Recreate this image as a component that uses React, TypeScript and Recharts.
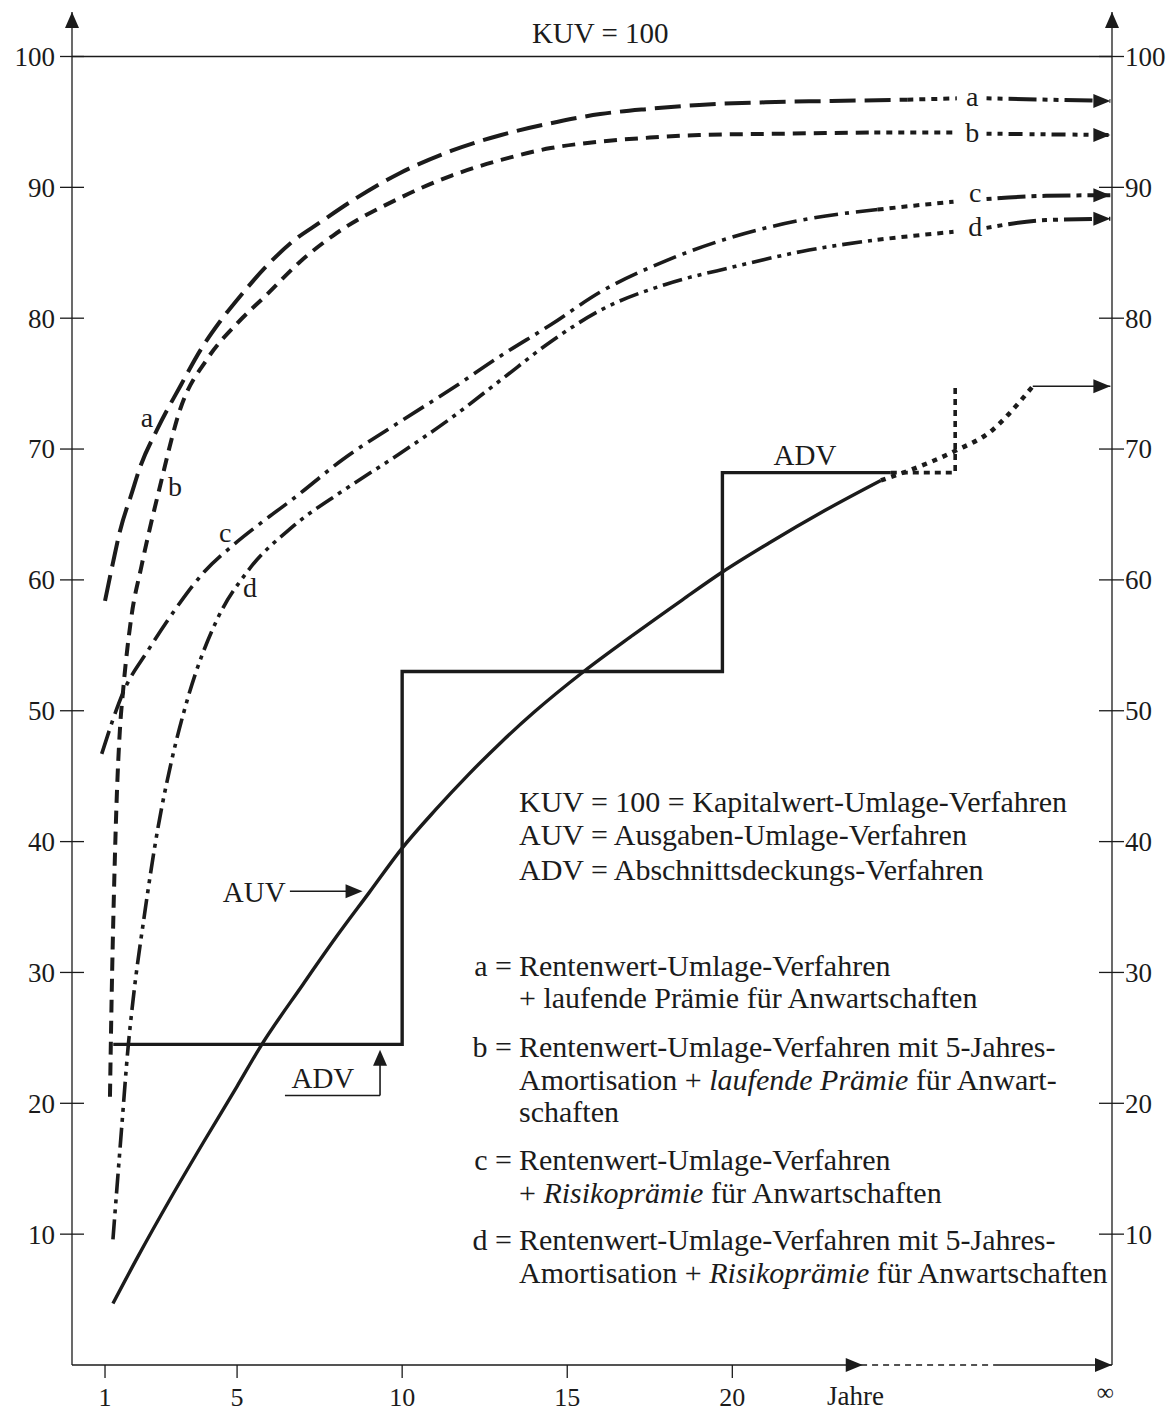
import React from "react";
import {
  LineChart,
  Line,
  XAxis,
  YAxis,
  ReferenceLine,
  ReferenceDot,
} from "recharts";

const W = 1168;
const H = 1414;
const SERIF = '"Liberation Serif", "Times New Roman", serif';
const INK = "#1b1b1b";

// axes
const yTicks = [10, 20, 30, 40, 50, 60, 70, 80, 90, 100];
const xTicks = [1, 5, 10, 15, 20];
const JAHRE_AT = 23.73;
const INF_AT = 31.3;
const X_MAX = 31.5;
const Y_MAX = 103.4;

// a = Rentenwert-Umlage + laufende Prämie
const curveA = [
  { x: 1.0, y: 58.4 }, { x: 1.24, y: 61.3 }, { x: 1.45, y: 63.7 }, { x: 1.82, y: 66.7 },
  { x: 2.06, y: 68.6 }, { x: 2.58, y: 71.5 }, { x: 3.3, y: 74.9 }, { x: 3.9, y: 77.6 },
  { x: 4.5, y: 79.8 }, { x: 5.1, y: 81.7 }, { x: 5.9, y: 84.0 }, { x: 6.7, y: 85.9 },
  { x: 7.5, y: 87.3 }, { x: 8.5, y: 89.0 }, { x: 9.94, y: 91.1 }, { x: 11.5, y: 92.8 },
  { x: 13, y: 94.0 }, { x: 14.5, y: 94.9 }, { x: 16, y: 95.6 }, { x: 17.5, y: 96.0 },
  { x: 19, y: 96.3 }, { x: 21, y: 96.5 }, { x: 23, y: 96.6 }, { x: 25.3, y: 96.7 },
];
const bridgeA = [{ x: 25.3, y: 96.7 }, { x: 26.8, y: 96.8 }];
const tailA = [{ x: 27.7, y: 96.8 }, { x: 31.45, y: 96.6 }];

// b = Rentenwert-Umlage mit 5-Jahres-Amortisation + laufende Prämie
const curveB = [
  { x: 1.15, y: 20.5 }, { x: 1.2, y: 28 }, { x: 1.27, y: 36 }, { x: 1.35, y: 43 },
  { x: 1.45, y: 48.5 }, { x: 1.55, y: 51.6 }, { x: 1.8, y: 57.2 }, { x: 2.1, y: 61 },
  { x: 2.67, y: 67.2 }, { x: 3.27, y: 73.0 }, { x: 4.1, y: 76.9 }, { x: 5, y: 79.6 },
  { x: 5.9, y: 81.8 }, { x: 6.9, y: 84.3 }, { x: 7.9, y: 86.3 }, { x: 9.94, y: 89.2 },
  { x: 11.5, y: 90.9 }, { x: 13, y: 92.1 }, { x: 14.5, y: 93.0 }, { x: 16, y: 93.5 },
  { x: 17.5, y: 93.8 }, { x: 19, y: 94.0 }, { x: 21.5, y: 94.1 }, { x: 24.3, y: 94.2 },
];
const bridgeB = [{ x: 24.3, y: 94.2 }, { x: 26.8, y: 94.2 }];
const tailB = [{ x: 27.7, y: 94.1 }, { x: 31.45, y: 94.0 }];

// c = Rentenwert-Umlage + Risikoprämie
const curveC = [
  { x: 0.9, y: 46.7 }, { x: 1.55, y: 51.4 }, { x: 2.3, y: 54.6 }, { x: 3.2, y: 58 },
  { x: 4.0, y: 60.6 }, { x: 4.9, y: 62.7 }, { x: 5.8, y: 64.5 }, { x: 6.7, y: 66.2 },
  { x: 8.2, y: 69.2 }, { x: 9.94, y: 72.1 }, { x: 11.5, y: 74.6 }, { x: 12.97, y: 77.1 },
  { x: 14.5, y: 79.5 }, { x: 16, y: 82.0 }, { x: 18, y: 84.4 }, { x: 20, y: 86.2 },
  { x: 22.1, y: 87.5 }, { x: 24.4, y: 88.3 },
];
const bridgeC = [{ x: 24.4, y: 88.3 }, { x: 25.5, y: 88.6 }, { x: 26.7, y: 88.9 }];
const tailC = [{ x: 27.7, y: 89.1 }, { x: 29.5, y: 89.35 }, { x: 31.45, y: 89.4 }];

// d = Rentenwert-Umlage mit 5-Jahres-Amortisation + Risikoprämie
const curveD = [
  { x: 1.24, y: 9.6 }, { x: 1.5, y: 18 }, { x: 1.7, y: 24.3 }, { x: 1.85, y: 27.9 },
  { x: 2.2, y: 34.5 }, { x: 2.6, y: 41 }, { x: 3.0, y: 46 }, { x: 3.5, y: 50.9 },
  { x: 4.4, y: 57 }, { x: 5.3, y: 60.6 }, { x: 6.7, y: 64.1 }, { x: 8.2, y: 66.8 },
  { x: 9.9, y: 69.6 }, { x: 11.5, y: 72.4 }, { x: 13, y: 75.3 }, { x: 14.5, y: 78.2 },
  { x: 16, y: 80.6 }, { x: 18, y: 82.6 }, { x: 20, y: 83.9 }, { x: 22.1, y: 85.1 },
  { x: 24.4, y: 86.0 },
];
const bridgeD = [{ x: 24.4, y: 86.0 }, { x: 25.5, y: 86.3 }, { x: 26.7, y: 86.6 }];
const tailD = [{ x: 27.7, y: 86.9 }, { x: 29.5, y: 87.5 }, { x: 31.45, y: 87.6 }];

// AUV = Ausgaben-Umlage-Verfahren
const auv = [
  { x: 1.24, y: 4.7 }, { x: 2, y: 8.3 }, { x: 3, y: 12.8 }, { x: 4, y: 17.1 },
  { x: 5, y: 21.3 }, { x: 5.7, y: 24.3 }, { x: 7, y: 29.1 }, { x: 8, y: 32.7 },
  { x: 9, y: 36.1 }, { x: 10, y: 39.5 }, { x: 11, y: 42.4 }, { x: 12, y: 45.1 },
  { x: 13, y: 47.6 }, { x: 14, y: 49.9 }, { x: 15.5, y: 53.0 }, { x: 17, y: 55.8 },
  { x: 18.5, y: 58.5 }, { x: 19.7, y: 60.6 }, { x: 21.1, y: 62.8 }, { x: 22.8, y: 65.3 },
  { x: 24.5, y: 67.6 },
];
const auvLimit = [
  { x: 24.5, y: 67.6 }, { x: 25.6, y: 68.6 }, { x: 26.7, y: 69.8 }, { x: 27.9, y: 71.5 },
  { x: 28.7, y: 73.6 }, { x: 29.1, y: 74.8 },
];
const auvLimitArrow = [{ x: 29.1, y: 74.8 }, { x: 31.45, y: 74.8 }];

// ADV = Abschnittsdeckungs-Verfahren (10-Jahres-Abschnitte)
const adv = [
  { x: 1.25, y: 24.5 }, { x: 10, y: 24.5 }, { x: 10, y: 53.0 }, { x: 19.7, y: 53.0 },
  { x: 19.7, y: 68.2 }, { x: 24.8, y: 68.2 },
];
const advLimit = [{ x: 24.8, y: 68.2 }, { x: 26.75, y: 68.2 }, { x: 26.75, y: 74.8 }];

const legendTop = [
  { y: 812, text: "KUV = 100 = Kapitalwert-Umlage-Verfahren" },
  { y: 845, text: "AUV = Ausgaben-Umlage-Verfahren" },
  { y: 880, text: "ADV = Abschnittsdeckungs-Verfahren" },
];

const arrowRight = (p: any) => (
  <path
    d={`M${p.cx},${p.cy} L${p.cx - 17},${p.cy - 7} L${p.cx - 17},${p.cy + 7} Z`}
    fill={INK}
  />
);
const arrowUp = (p: any) => (
  <path
    d={`M${p.cx},${p.cy} L${p.cx - 7},${p.cy + 16} L${p.cx + 7},${p.cy + 16} Z`}
    fill={INK}
  />
);
const note = (text: string, size = 28, anchor = "middle") => (p: any) => (
  <text
    x={p.cx}
    y={p.cy}
    textAnchor={anchor}
    fontFamily={SERIF}
    fontSize={size}
    fill={INK}
  >
    {text}
  </text>
);

const LeftTick = (p: any) => (
  <g>
    <line x1={p.x - 12} x2={p.x + 12} y1={p.y} y2={p.y} stroke={INK} strokeWidth={1.3} />
    <text x={p.x - 17} y={p.y} dy="0.35em" textAnchor="end" fontFamily={SERIF} fontSize={27} fill={INK}>
      {p.payload.value}
    </text>
  </g>
);
const RightTick = (p: any) => (
  <g>
    <line x1={p.x - 13} x2={p.x + 12} y1={p.y} y2={p.y} stroke={INK} strokeWidth={1.3} />
    <text x={p.x + 13} y={p.y} dy="0.35em" textAnchor="start" fontFamily={SERIF} fontSize={27} fill={INK}>
      {p.payload.value}
    </text>
  </g>
);
const BottomTick = (p: any) => {
  const v = p.payload.value;
  if (v === JAHRE_AT)
    return (
      <text x={p.x} y={p.y + 40} textAnchor="middle" fontFamily={SERIF} fontSize={27} fill={INK}>
        Jahre
      </text>
    );
  if (v === INF_AT)
    return (
      <text x={p.x} y={p.y + 35} textAnchor="middle" fontFamily={SERIF} fontSize={24} fill={INK}>
        ∞
      </text>
    );
  return (
    <g>
      <line x1={p.x} x2={p.x} y1={p.y} y2={p.y + 13} stroke={INK} strokeWidth={1.3} />
      <text x={p.x} y={p.y + 41} textAnchor="middle" fontFamily={SERIF} fontSize={26} fill={INK}>
        {v}
      </text>
    </g>
  );
};

const common = {
  yAxisId: "left",
  dataKey: "y",
  stroke: INK,
  dot: false,
  activeDot: false,
  isAnimationActive: false,
} as const;

export default function App() {
  return (
    <div style={{ position: "absolute", left: 0, top: 0, width: W, height: H, background: "#fff" }}>
      <LineChart
        width={W}
        height={H}
        margin={{ top: 12, right: 16, bottom: 19, left: 32 }}
      >
        <XAxis
          type="number"
          dataKey="x"
          domain={[0, X_MAX]}
          ticks={[...xTicks, JAHRE_AT, INF_AT]}
          interval={0}
          axisLine={false}
          tickLine={false}
          tickSize={0}
          tickMargin={0}
          height={30}
          tick={<BottomTick />}
          allowDataOverflow
        />
        <YAxis
          yAxisId="left"
          type="number"
          domain={[0, Y_MAX]}
          ticks={yTicks}
          interval={0}
          width={40}
          axisLine={{ stroke: INK, strokeWidth: 1.3 }}
          tickLine={false}
          tickSize={0}
          tickMargin={0}
          tick={<LeftTick />}
          allowDataOverflow
        />
        <YAxis
          yAxisId="right"
          orientation="right"
          type="number"
          domain={[0, Y_MAX]}
          ticks={yTicks.slice()}
          interval={0}
          width={40}
          axisLine={{ stroke: INK, strokeWidth: 1.3 }}
          tickLine={false}
          tickSize={0}
          tickMargin={0}
          tick={<RightTick />}
          allowDataOverflow
        />

        <ReferenceLine yAxisId="left" y={100} stroke={INK} strokeWidth={1.3} />
        <ReferenceLine yAxisId="left" segment={[{ x: 0, y: 0 }, { x: 23.9, y: 0 }]} stroke={INK} strokeWidth={1.3} ifOverflow="visible" />
        <ReferenceLine yAxisId="left" segment={[{ x: 23.9, y: 0 }, { x: 27.9, y: 0 }]} stroke={INK} strokeWidth={1.3} strokeDasharray="6 5" ifOverflow="visible" />
        <ReferenceLine yAxisId="left" segment={[{ x: 27.9, y: 0 }, { x: X_MAX, y: 0 }]} stroke={INK} strokeWidth={1.3} ifOverflow="visible" />
        <ReferenceDot yAxisId="left" x={23.95} y={0} shape={arrowRight} ifOverflow="visible" />
        <ReferenceDot yAxisId="left" x={X_MAX} y={0} shape={arrowRight} ifOverflow="visible" />
        <ReferenceDot yAxisId="left" x={0} y={Y_MAX} shape={arrowUp} ifOverflow="visible" />
        <ReferenceDot yAxisId="left" x={X_MAX} y={Y_MAX} shape={arrowUp} ifOverflow="visible" />

        <Line {...common} data={curveA} type="monotone" strokeWidth={4} strokeDasharray="26 9" />
        <Line {...common} data={bridgeA} type="linear" strokeWidth={4} strokeDasharray="6 6" />
        <Line {...common} data={tailA} type="linear" strokeWidth={4} strokeDasharray="5 6 5 6 28 6" />
        <Line {...common} data={curveB} type="monotone" strokeWidth={4} strokeDasharray="13 8" />
        <Line {...common} data={bridgeB} type="linear" strokeWidth={4} strokeDasharray="6 6" />
        <Line {...common} data={tailB} type="linear" strokeWidth={4} strokeDasharray="5 6 5 6 14 7" />
        <Line {...common} data={curveC} type="monotone" strokeWidth={3.6} strokeDasharray="24 7 4 7" />
        <Line {...common} data={bridgeC} type="monotone" strokeWidth={4} strokeDasharray="6 6" />
        <Line {...common} data={tailC} type="monotone" strokeWidth={4} strokeDasharray="5 6 28 6" />
        <Line {...common} data={curveD} type="monotone" strokeWidth={3.6} strokeDasharray="20 6 4 6 4 6" />
        <Line {...common} data={bridgeD} type="monotone" strokeWidth={4} strokeDasharray="6 6" />
        <Line {...common} data={tailD} type="monotone" strokeWidth={4} strokeDasharray="5 6 5 6 28 6" />
        <ReferenceDot yAxisId="left" x={tailA[tailA.length - 1].x} y={tailA[tailA.length - 1].y} shape={arrowRight} ifOverflow="visible" />
        <ReferenceDot yAxisId="left" x={tailB[tailB.length - 1].x} y={tailB[tailB.length - 1].y} shape={arrowRight} ifOverflow="visible" />
        <ReferenceDot yAxisId="left" x={tailC[tailC.length - 1].x} y={tailC[tailC.length - 1].y} shape={arrowRight} ifOverflow="visible" />
        <ReferenceDot yAxisId="left" x={tailD[tailD.length - 1].x} y={tailD[tailD.length - 1].y} shape={arrowRight} ifOverflow="visible" />

        <Line {...common} data={auv} type="monotone" strokeWidth={3.4} />
        <Line {...common} data={auvLimit} type="monotone" strokeWidth={4.5} strokeDasharray="5 6" />
        <Line {...common} data={auvLimitArrow} type="linear" strokeWidth={1.6} />
        <ReferenceDot yAxisId="left" x={auvLimitArrow[1].x} y={auvLimitArrow[1].y} shape={arrowRight} ifOverflow="visible" />
        <Line {...common} data={adv} type="linear" strokeWidth={3.4} />
        <Line {...common} data={advLimit} type="linear" strokeWidth={3.6} strokeDasharray="6 5" />

        {/* AUV / ADV pointers */}
        <ReferenceLine yAxisId="left" segment={[{ x: 6.6, y: 36.2 }, { x: 8.3, y: 36.2 }]} stroke={INK} strokeWidth={1.6} />
        <ReferenceDot yAxisId="left" x={8.8} y={36.2} shape={arrowRight} ifOverflow="visible" />
        <ReferenceLine yAxisId="left" segment={[{ x: 6.45, y: 20.6 }, { x: 9.33, y: 20.6 }]} stroke={INK} strokeWidth={1.6} />
        <ReferenceLine yAxisId="left" segment={[{ x: 9.33, y: 20.6 }, { x: 9.33, y: 23.0 }]} stroke={INK} strokeWidth={1.6} />
        <ReferenceDot yAxisId="left" x={9.33} y={24.1} shape={arrowUp} ifOverflow="visible" />

        {/* labels */}
        <ReferenceDot yAxisId="left" x={16.0} y={101.0} shape={note("KUV = 100", 29)} ifOverflow="visible" />
        <ReferenceDot yAxisId="left" x={2.27} y={71.7} shape={note("a")} ifOverflow="visible" />
        <ReferenceDot yAxisId="left" x={3.12} y={66.4} shape={note("b")} ifOverflow="visible" />
        <ReferenceDot yAxisId="left" x={4.64} y={62.9} shape={note("c")} ifOverflow="visible" />
        <ReferenceDot yAxisId="left" x={5.39} y={58.7} shape={note("d")} ifOverflow="visible" />
        <ReferenceDot yAxisId="left" x={27.27} y={96.2} shape={note("a")} ifOverflow="visible" />
        <ReferenceDot yAxisId="left" x={27.27} y={93.5} shape={note("b")} ifOverflow="visible" />
        <ReferenceDot yAxisId="left" x={27.36} y={88.9} shape={note("c")} ifOverflow="visible" />
        <ReferenceDot yAxisId="left" x={27.36} y={86.3} shape={note("d")} ifOverflow="visible" />
        <ReferenceDot yAxisId="left" x={22.2} y={68.8} shape={note("ADV", 29)} ifOverflow="visible" />
        <ReferenceDot yAxisId="left" x={7.6} y={21.2} shape={note("ADV", 29)} ifOverflow="visible" />
        <ReferenceDot yAxisId="left" x={5.52} y={35.35} shape={note("AUV", 29)} ifOverflow="visible" />
      </LineChart>

      <svg
        width={W}
        height={H}
        style={{ position: "absolute", left: 0, top: 0, pointerEvents: "none" }}
        fontFamily={SERIF}
        fontSize={30}
        fill={INK}
      >
        {legendTop.map((l) => (
          <text key={l.y} x={519} y={l.y}>{l.text}</text>
        ))}
        <text x={512} y={976} textAnchor="end">a =</text>
        <text x={519} y={976}>Rentenwert-Umlage-Verfahren</text>
        <text x={519} y={1008}>+ laufende Prämie für Anwartschaften</text>
        <text x={512} y={1057} textAnchor="end">b =</text>
        <text x={519} y={1057}>Rentenwert-Umlage-Verfahren mit 5-Jahres-</text>
        <text x={519} y={1090}>
          Amortisation + <tspan fontStyle="italic">laufende Prämie</tspan> für Anwart-
        </text>
        <text x={519} y={1122}>schaften</text>
        <text x={512} y={1170} textAnchor="end">c =</text>
        <text x={519} y={1170}>Rentenwert-Umlage-Verfahren</text>
        <text x={519} y={1203}>
          + <tspan fontStyle="italic">Risikoprämie</tspan> für Anwartschaften
        </text>
        <text x={512} y={1250} textAnchor="end">d =</text>
        <text x={519} y={1250}>Rentenwert-Umlage-Verfahren mit 5-Jahres-</text>
        <text x={519} y={1283}>
          Amortisation + <tspan fontStyle="italic">Risikoprämie</tspan> für Anwartschaften
        </text>
      </svg>
    </div>
  );
}
